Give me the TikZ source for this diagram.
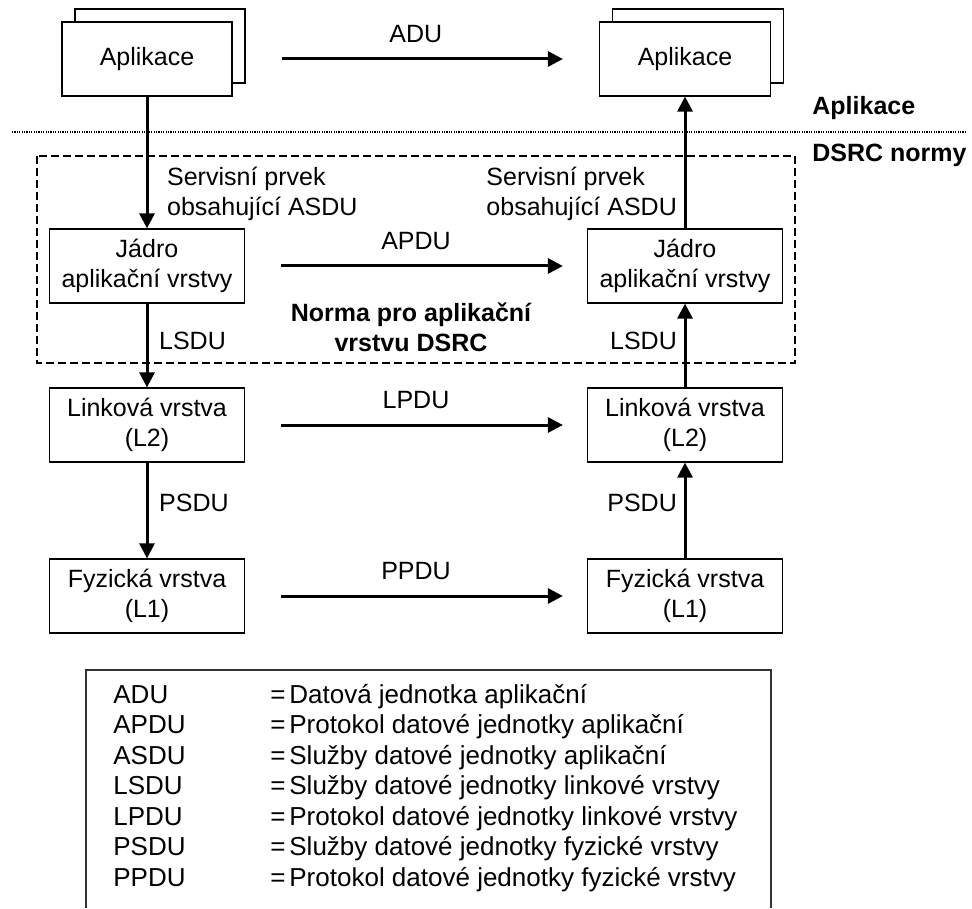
\documentclass[tikz,border=0pt]{standalone}
\usepackage{fontspec}
\setmainfont{Liberation Sans}
\usetikzlibrary{arrows.meta,positioning}

\tikzset{
  layer/.style={draw, line width=0.6pt, fill=white, minimum width=97.5pt,
    minimum height=37pt, align=center, inner sep=0pt},
  flow/.style={line width=1.5pt, -{Triangle[length=7.5pt,width=7.5pt]}},
  heading/.style={font=\fontsize{12.5}{15}\selectfont\bfseries},
  legend/.style={anchor=base west, inner sep=0pt, font=\fontsize{13}{15}\selectfont},
}

\begin{document}
\begin{tikzpicture}[x=0.5pt, y=-0.5pt, font=\fontsize{12.5}{15}\selectfont]
    \useasboundingbox (0,0) rectangle (972,908);

    % application (two stacked sheets on each side)
    \node[layer, minimum width=85pt] (app1b) at (160,46) {};
    \node[layer, minimum width=85pt] (app1) at (147,59) {Aplikace};
    \node[layer, minimum width=85.5pt] (app2b) at (698,46) {};
    \node[layer, minimum width=85.5pt] (app2) at (685,59) {Aplikace};

    % layers
    \foreach \n/\y/\t in {
        jad/266/{J\'adro\\aplika\v{c}n\'i vrstvy},
        lnk/425/{Linkov\'a vrstva\\(L2)},
        fyz/596/{Fyzick\'a vrstva\\(L1)}}
        {
        \node[layer] (\n1) at (147,\y) {\t};
        \node[layer] (\n2) at (685,\y) {\t};
        }

    % boundary between application and DSRC
    \draw[line width=0.6pt, dash pattern=on 0.6pt off 0.6pt] (12,132) -- (965,132);
    \node[heading, anchor=west, inner sep=0pt] (hApl) at (812,108) {Aplikace};
    \node[heading, anchor=west, inner sep=0pt] (hDsrc) at (812,155) {DSRC normy};

    % scope of the DSRC application layer norm
    \draw[line width=1pt, dash pattern=on 4pt off 2pt] (37,156) rectangle (795,363);
    \node[heading, align=center] (norma) at (411,327) {Norma pro aplika\v{c}n\'i\\vrstvu DSRC};

    % peer protocols
    \draw[flow, shorten <=24.5pt, shorten >=18pt] (app1) -- (app2)
        node[midway, above=4pt] {ADU};
    \foreach \n/\m in {jad/APDU, lnk/LPDU, fyz/PPDU}
        \draw[flow, shorten <=18pt, shorten >=12pt] (\n1) -- (\n2)
            node[midway, above=4pt] {\m};

    % down the sending stack
    \draw[flow] (app1) -- (jad1)
        node[pos=0.74, right=6pt, align=left] {Servisn\'i prvek\\obsahuj\'ic\'i ASDU};
    \draw[flow] (jad1) -- (lnk1) node[pos=0.45, right=2pt] {LSDU};
    \draw[flow] (lnk1) -- (fyz1) node[pos=0.42, right=2pt] {PSDU};

    % up the receiving stack
    \draw[flow] (fyz2) -- (lnk2) node[pos=0.58, left=0pt] {PSDU};
    \draw[flow] (lnk2) -- (jad2) node[pos=0.56, left=0pt] {LSDU};
    \draw[flow] (jad2) -- (app2)
        node[pos=0.26, left=0pt, align=left] {Servisn\'i prvek\\obsahuj\'ic\'i ASDU};

    % legend
    \draw[line width=0.6pt, draw=black!80] (86,908) -- (86,670) -- (771,670) -- (771,908);
    \foreach \a/\d [count=\i from 0] in {
        ADU/Datov\'a jednotka aplika\v{c}n\'i,
        APDU/Protokol datov\'e jednotky aplika\v{c}n\'i,
        ASDU/Slu\v{z}by datov\'e jednotky aplika\v{c}n\'i,
        LSDU/Slu\v{z}by datov\'e jednotky linkov\'e vrstvy,
        LPDU/Protokol datov\'e jednotky linkov\'e vrstvy,
        PSDU/Slu\v{z}by datov\'e jednotky fyzick\'e vrstvy,
        PPDU/Protokol datov\'e jednotky fyzick\'e vrstvy}
        {
        \node[legend] (abbr\i) at (113,703+30.5*\i) {\a};
        \node[legend] (eq\i) at (270,703+30.5*\i) {=};
        \node[legend] (desc\i) at (289,703+30.5*\i) {\d};
        }

\end{tikzpicture}
\end{document}
